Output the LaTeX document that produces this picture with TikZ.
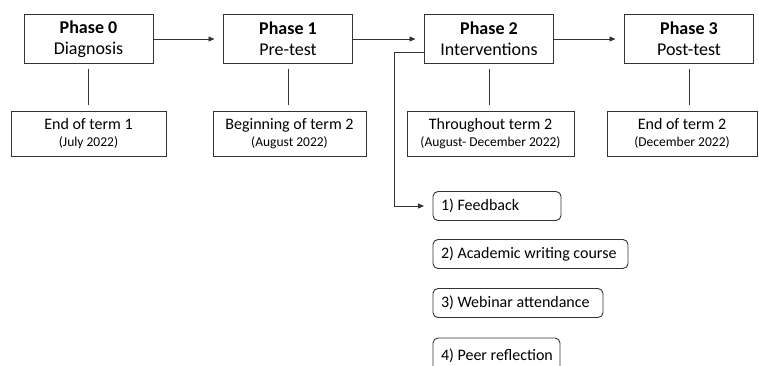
\documentclass[tikz,border=0pt]{standalone}
\usepackage{fontspec}
\setmainfont{Carlito}
\usetikzlibrary{arrows.meta}
\tikzset{
  ln/.style={draw=black!80, line width=0.9pt},
  phase/.style={ln, minimum width=129pt, minimum height=49pt, align=center,
     font=\fontsize{18}{22}\selectfont},
  when/.style={ln, minimum height=45pt, align=center,
     font=\fontsize{16}{17}\selectfont},
  itembox/.style={ln, rounded corners=5pt, anchor=west, minimum height=29pt,
     inner xsep=8pt, font=\fontsize{16}{19}\selectfont},
  arr/.style={ln, -{Triangle[length=6pt,width=5pt]}}
}
\newcommand\lefttext[2]{\makebox[#1][l]{#2}}
\begin{document}
\begin{tikzpicture}[x=1pt,y=-1pt,
  every node/.style={inner sep=0pt, outer sep=0pt}]
\clip (0,0) rectangle (759,365);
\fill[white] (0,0) rectangle (759,365);

\node[phase] (p0) at (88.5,39) {\textbf{Phase 0}\\[-1pt]Diagnosis};
\node[phase] (p1) at (288,39) {\textbf{Phase 1}\\[-1pt]Pre-test};
\node[phase] (p2) at (489,39) {\textbf{Phase 2}\\[-1pt]Interventions};
\node[phase] (p3) at (689,39) {\textbf{Phase 3}\\[-1pt]Post-test};

\node[when, minimum width=155pt] (b0) at (88.5,133.5) {End of term 1\\{\fontsize{13.5}{15}\selectfont (July 2022)}};
\node[when, minimum width=153pt] (b1) at (289.5,133.5) {Beginning of term 2\\{\fontsize{13.5}{15}\selectfont (August 2022)}};
\node[when, minimum width=167pt] (b2) at (490.5,133.5) {Throughout term 2\\{\fontsize{13.5}{15}\selectfont (August- December 2022)}};
\node[when, minimum width=150pt] (b3) at (682,133.5) {End of term 2\\{\fontsize{13.5}{15}\selectfont (December 2022)}};

\node[itembox] (i1) at (433,206) {\lefttext{112pt}{1) Feedback}};
\node[itembox] (i2) at (433,254) {\lefttext{179pt}{2) Academic writing course}};
\node[itembox] (i3) at (433,303) {\lefttext{154pt}{3) Webinar attendance}};
\node[itembox, minimum height=36pt] (i4) at (433,356) {\raisebox{3pt}{\lefttext{111pt}{4) Peer reflection}}};

\draw[arr, shorten >=9pt] (p0) -- (p1);
\draw[arr, shorten >=9pt] (p1) -- (p2);
\draw[arr, shorten >=9pt] (p2) -- (p3);

\foreach \a/\b in {p0/b0,p1/b1,p2/b2,p3/b3}
  \draw[ln, shorten <=5pt, shorten >=6pt] (\a.south) -- (\a.south |- \b.north);

\coordinate (br) at ([yshift=-13.5pt]p2.west);
\draw[arr, shorten >=9pt] (br) -- ++(-30,0) |- (i1.west);
\end{tikzpicture}
\end{document}
